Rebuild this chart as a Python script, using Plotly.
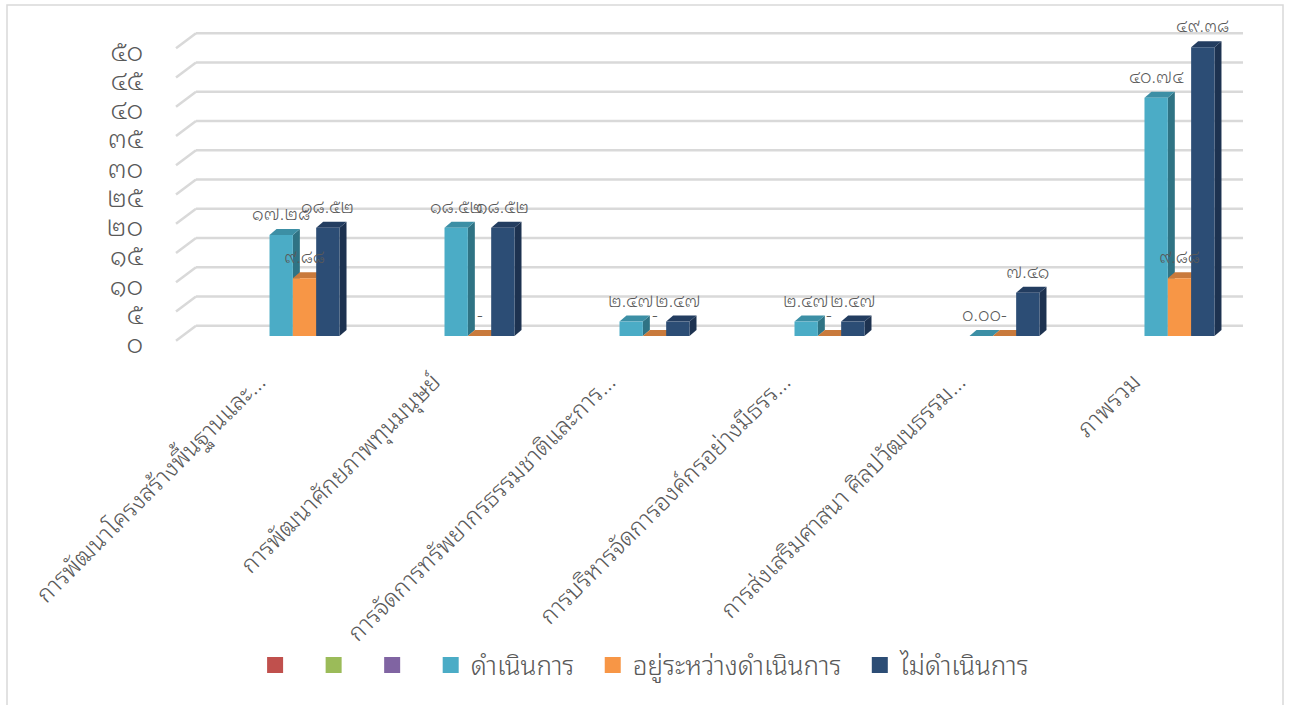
import plotly.graph_objects as go

# ---------------- data ----------------
categories = [
    "การพัฒนาโครงสร้างพื้นฐานและ…",
    "การพัฒนาศักยภาพทุนมนุษย์",
    "การจัดการทรัพยากรธรรมชาติและการ…",
    "การบริหารจัดการองค์กรอย่างมีธรร…",
    "การส่งเสริมศาสนา ศิลปวัฒนธรรม…",
    "ภาพรวม",
]
done = [17.28, 18.52, 2.47, 2.47, 0.00, 40.74]
in_progress = [9.88, None, None, None, None, 9.88]
not_done = [18.52, 18.52, 2.47, 2.47, 7.41, 49.38]
series_names = ["ดำเนินการ", "อยู่ระหว่างดำเนินการ", "ไม่ดำเนินการ"]
y_tick_values = [0, 5, 10, 15, 20, 25, 30, 35, 40, 45, 50]

# ---------------- styles ----------------
empty_legend_colors = ["#C0504D", "#9BBB59", "#8064A2"]
front_colors = ["#4BACC6", "#F79646", "#2C4D75"]
side_colors = ["#2F7384", "#B8692F", "#1D3250"]
top_colors = ["#3C8FA5", "#C97A3C", "#233D60"]
TXT = "#595959"
FONT = "'Noto Sans Thai Looped', 'Noto Sans Thai', Tahoma, 'Noto Sans', sans-serif"
WEIGHT = 300
NBSP = "\u00a0"

W, H = 1290, 705
ML, MR, MT, MB = 150, 40, 20, 360
XR = [-0.883, 5.403]
YR = [-1.539, 54.04]
plot_w = W - ML - MR
plot_h = H - MT - MB
px_x = plot_w / (XR[1] - XR[0])
px_y = plot_h / (YR[1] - YR[0])

def x_from_px(px):
    return XR[0] + (px - ML) / px_x

THAI_DIGITS = str.maketrans("0123456789", "๐๑๒๓๔๕๖๗๘๙")

def thai(v):
    return ("%.2f" % v).translate(THAI_DIGITS)

def thai_int(v):
    return str(v).translate(THAI_DIGITS)

GROUP = 0.4
BW = GROUP / 3
DX = 7 / px_x
DY = 6 / px_y

fig = go.Figure()
shapes = []
annotations = []

# 3D-style gridlines (front diagonal + back wall line)
front_left = x_from_px(176)
back_left = x_from_px(196)
right_end = x_from_px(1243)
front_off = -4.7 / px_y
back_off = 10.3 / px_y
for t in y_tick_values:
    shapes.append(dict(type="line", xref="x", yref="y", layer="below",
                       x0=front_left, y0=t + front_off, x1=back_left, y1=t + back_off,
                       line=dict(color="#D9D9D9", width=2.5)))
    shapes.append(dict(type="line", xref="x", yref="y", layer="below",
                       x0=back_left, y0=t + back_off, x1=right_end, y1=t + back_off,
                       line=dict(color="#D9D9D9", width=2.5)))

xs = list(range(len(categories)))
all_series = [done, in_progress, not_done]
for i, (vals, name) in enumerate(zip(all_series, series_names)):
    offset = -GROUP / 2 + i * BW
    fig.add_trace(go.Bar(
        x=xs, y=vals, name=name, width=BW, offset=offset,
        marker=dict(color=front_colors[i], line=dict(width=0)),
        showlegend=False, hoverinfo="y",
    ))
    for c, v in zip(xs, vals):
        h = 0 if v is None else v
        xl = c + offset
        xr = xl + BW
        # side face
        shapes.append(dict(type="path", xref="x", yref="y", layer="below",
                           path=f"M {xr},0 L {xr+DX},{DY} L {xr+DX},{h+DY} L {xr},{h} Z",
                           fillcolor=side_colors[i], line=dict(width=0)))
        # top face
        shapes.append(dict(type="path", xref="x", yref="y", layer="below",
                           path=f"M {xl},{h} L {xl+DX},{h+DY} L {xr+DX},{h+DY} L {xr},{h} Z",
                           fillcolor=top_colors[i], line=dict(width=0)))
        label = "-" if v is None else thai(v)
        annotations.append(dict(x=xl + BW / 2, y=h, xref="x", yref="y",
                                text=label, showarrow=False, xshift=0, yshift=23,
                                font=dict(size=18, color=TXT, family=FONT, weight=WEIGHT)))

# legend entries
for col in empty_legend_colors:
    fig.add_trace(go.Scatter(x=[None], y=[None], mode="markers", name=NBSP * 2,
                             marker=dict(symbol="square", size=16, color=col)))
for i, name in enumerate(series_names):
    fig.add_trace(go.Scatter(x=[None], y=[None], mode="markers", name=name + NBSP * 2,
                             marker=dict(symbol="square", size=16, color=front_colors[i])))

# outer frame
shapes.append(dict(type="rect", xref="paper", yref="paper",
                   x0=(7 - ML) / plot_w, x1=(1283 - ML) / plot_w,
                   y0=(MT + plot_h - 712) / plot_h, y1=(MT + plot_h - 5) / plot_h,
                   line=dict(color="#D9D9D9", width=1.5)))

fig.update_layout(
    width=W, height=H,
    margin=dict(l=ML, r=MR, t=MT, b=MB),
    paper_bgcolor="white", plot_bgcolor="white",
    barmode="overlay",
    font=dict(family=FONT, color=TXT, weight=WEIGHT),
    shapes=shapes, annotations=annotations,
    xaxis=dict(range=XR, tickvals=xs, ticktext=categories, tickangle=-45,
               showgrid=False, zeroline=False, showline=False, ticks="",
               tickfont=dict(size=24, color=TXT, family=FONT, weight=WEIGHT),
               ticklabelstandoff=17, ticklabelshift=-46, fixedrange=True),
    yaxis=dict(range=YR, tickvals=y_tick_values, ticktext=[thai_int(t) for t in y_tick_values],
               showgrid=False, zeroline=False, showline=False, ticks="",
               tickfont=dict(size=26, color=TXT, family=FONT, weight=WEIGHT),
               ticklabelshift=8, ticklabelstandoff=6, fixedrange=True),
    legend=dict(orientation="h", x=0.456, xanchor="center", y=-0.985, yanchor="middle",
                font=dict(size=26, color=TXT, family=FONT, weight=WEIGHT), itemclick=False),
    showlegend=True,
)

fig.write_html("out.html")
